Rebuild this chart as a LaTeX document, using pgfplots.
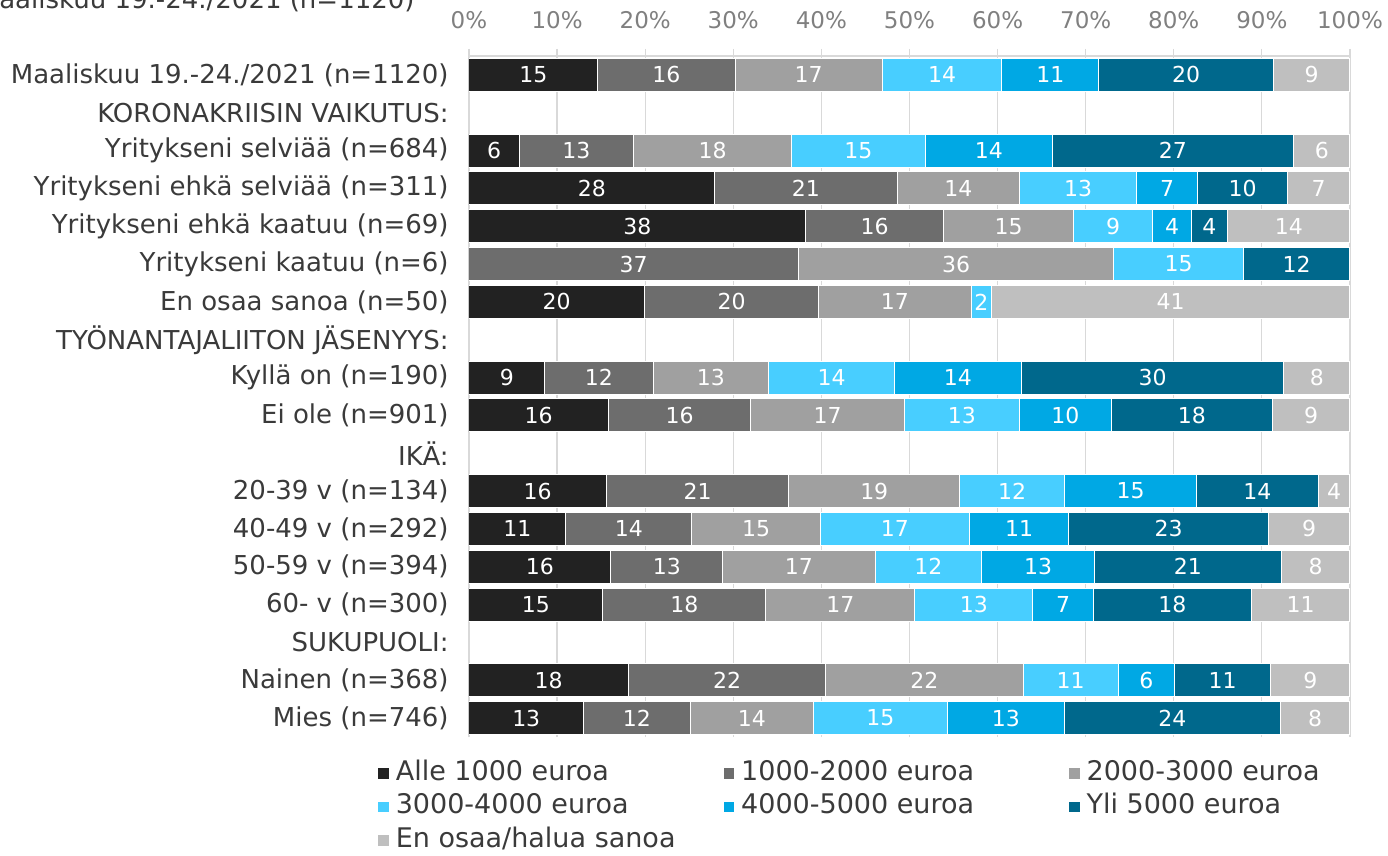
\documentclass[border=0pt]{standalone}
\usepackage{pgfplots}
\pgfplotsset{compat=1.18}
\usepackage{pgfplotstable}
\usepackage{fontspec}
\setmainfont{DejaVu Sans}
\definecolor{cA}{HTML}{222222}
\definecolor{cB}{HTML}{6D6D6D}
\definecolor{cC}{HTML}{A0A0A0}
\definecolor{cD}{HTML}{48CEFF}
\definecolor{cE}{HTML}{00A8E4}
\definecolor{cF}{HTML}{00688C}
\definecolor{cG}{HTML}{BFBFBF}
\definecolor{cText}{HTML}{3A3A3A}
\definecolor{cTick}{HTML}{808080}
\definecolor{cGrid}{HTML}{D9D9D9}
\pgfplotstableread{
y a la b lb c lc d ld e le f lf g lg
17 14.6 15 15.6 16 16.7 17 13.6 14 11.0 11 19.8 20 8.7 9
15 5.7 6 13.0 13 17.9 18 15.2 15 14.4 14 27.4 27 6.4 6
14 27.9 28 20.7 21 13.9 14 13.3 13 6.9 7 10.2 10 7.1 7
13 38.2 38 15.7 16 14.7 15 9.0 9 4.4 4 4.1 4 13.9 14
12 0 0 37.4 37 35.8 36 14.7 15 0 0 12.1 12 0 0
11 19.9 20 19.8 20 17.3 17 2.3 2 0 0 0 0 40.7 41
9 8.6 9 12.3 12 13.1 13 14.3 14 14.4 14 29.8 30 7.5 8
8 15.8 16 16.2 16 17.4 17 13.1 13 10.4 10 18.3 18 8.8 9
6 15.6 16 20.7 21 19.4 19 11.9 12 15.0 15 13.8 14 3.6 4
5 11.0 11 14.3 14 14.6 15 16.9 17 11.3 11 22.6 23 9.3 9
4 16.1 16 12.7 13 17.3 17 12.1 12 12.8 13 21.2 21 7.8 8
3 15.2 15 18.5 18 16.9 17 13.4 13 6.9 7 17.9 18 11.2 11
1 18.1 18 22.4 22 22.4 22 10.8 11 6.4 6 10.9 11 9.0 9
0 13.0 13 12.1 12 14.0 14 15.2 15 13.3 13 24.5 24 7.9 8
}\data
\pgfplotsset{
  seg/.style 2 args={fill=#1, draw=white, line width=0.5pt,
    point meta=\thisrow{l#2}},
}
\begin{document}
\begin{tikzpicture}
\node[anchor=base east, inner sep=0pt, text=cText, font=\fontsize{13}{15}\selectfont] at (-27pt,23.5pt) {Maaliskuu 19.-24./2021 (n=1120)};
\begin{axis}[
  at={(0,0)}, anchor=north west,
  scale only axis, width=440.5pt, height=340.5pt,
  xbar stacked, bar width=0.87,
  xmin=0, xmax=100, ymin=-0.5, ymax=17.5,
  enlargelimits=false,
  /pgf/number format/assume math mode=true,
  axis x line*=top, axis y line*=left,
  axis line style={draw=cGrid, line width=0.6pt},
  xtick={0,10,...,100},
  xticklabel={\pgfmathprintnumber{\tick}\%},
  xticklabel style={font=\fontsize{11.5}{13}\selectfont, text=cTick, inner sep=0pt, yshift=10pt},
  tick align=outside, major tick length=3.5pt,
  x tick style={draw=cGrid, line width=0.6pt},
  y tick style={draw=none},
  xmajorgrids, grid style={draw=cGrid, line width=0.6pt},
  ytick={0,...,17},
  yticklabels={Mies (n=746), Nainen (n=368), SUKUPUOLI:, 60- v (n=300), 50-59 v (n=394), 40-49 v (n=292), 20-39 v (n=134), IKÄ:, Ei ole (n=901), Kyllä on (n=190), TYÖNANTAJALIITON JÄSENYYS:, En osaa sanoa (n=50), Yritykseni kaatuu (n=6), Yritykseni ehkä kaatuu (n=69), Yritykseni ehkä selviää (n=311), Yritykseni selviää (n=684), KORONAKRIISIN VAIKUTUS:, Maaliskuu 19.-24./2021 (n=1120)},
  yticklabel style={font=\fontsize{13}{15}\selectfont, text=cText, inner sep=0pt, xshift=-6.5pt},
  nodes near coords={\pgfmathfloatifflags{\pgfplotspointmeta}{0}{}{\pgfmathprintnumber[fixed,precision=0]{\pgfplotspointmeta}}},
  every node near coord/.append style={anchor=center, font=\fontsize{11}{12}\selectfont, text=white, inner sep=0pt},
  legend columns=3, legend cell align=left,
  legend image code/.code={\path[#1, draw=none] (0pt,-2.6pt) rectangle (5.2pt,2.6pt);},
  legend style={at={(0,0)}, anchor=north west, xshift=-45.5pt, yshift=-12pt, draw=none, fill=none, inner sep=0pt,
    font=\fontsize{13.5}{15}\selectfont, text=cText,
    nodes={inner sep=0pt, text height=9.5pt, text depth=2.5pt},
    row sep=4.75pt,
    /tikz/every odd column/.append style={column sep=3.5pt}},
]
\addplot[seg={cA}{a}] table[x=a, y=y] {\data};
\addlegendentry{\makebox[164pt][l]{Alle 1000 euroa}}
\addplot[seg={cB}{b}] table[x=b, y=y] {\data};
\addlegendentry{\makebox[164pt][l]{1000-2000 euroa}}
\addplot[seg={cC}{c}] table[x=c, y=y] {\data};
\addlegendentry{2000-3000 euroa}
\addplot[seg={cD}{d}] table[x=d, y=y] {\data};
\addlegendentry{\makebox[164pt][l]{3000-4000 euroa}}
\addplot[seg={cE}{e}] table[x=e, y=y] {\data};
\addlegendentry{\makebox[164pt][l]{4000-5000 euroa}}
\addplot[seg={cF}{f}] table[x=f, y=y] {\data};
\addlegendentry{Yli 5000 euroa}
\addplot[seg={cG}{g}] table[x=g, y=y] {\data};
\addlegendentry{\makebox[164pt][l]{En osaa/halua sanoa}}
\end{axis}
\pgfresetboundingbox
\useasboundingbox (-234.5pt,28pt) rectangle (459.5pt,-400pt);
\end{tikzpicture}
\end{document}
